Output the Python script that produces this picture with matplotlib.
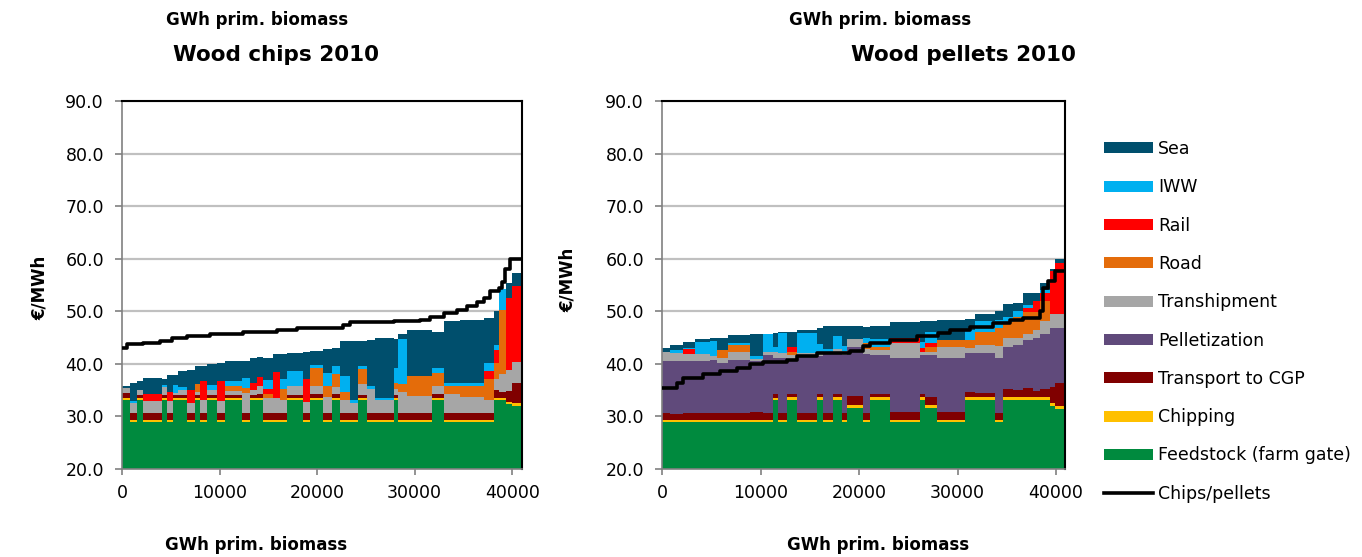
import numpy as np
import matplotlib.pyplot as plt
from matplotlib.patches import Patch
from matplotlib.lines import Line2D
from matplotlib.ticker import FormatStrFormatter

plt.rcParams["font.family"] = ["DejaVu Sans"]

# Couleurs des composantes de coût
colors = {
    "Sea": "#004F6D",
    "IWW": "#00B0F0",
    "Rail": "#FF0000",
    "Road": "#E46C0A",
    "Transhipment": "#A6A6A6",
    "Pelletization": "#604A7B",
    "Transport to CGP": "#800000",
    "Chipping": "#FFC000",
    "Feedstock (farm gate)": "#008A3E",
}

# ---- Wood chips 2010 : bornes des segments (GWh) et coûts (€/MWh)
chips_edges = [0, 820, 1500, 2190, 4070, 4580, 5270, 5780, 6630, 7490, 8000, 8680,
               9710, 10560, 12270, 13130, 13810, 14500, 15520, 16210, 16890, 18600,
               19280, 20650, 21500, 22360, 23390, 24240, 25100, 25950, 27830, 28340,
               29200, 31760, 32960, 34670, 37060, 38090, 38600, 39390, 39970, 40900]
chips_feed = [33.1, 28.9, 33.1, 28.9, 33.1, 28.9, 33.1, 33.1, 28.9, 33.1, 28.9, 33.1,
              28.9, 33.1, 28.9, 33.1, 33.1, 28.9, 28.9, 28.9, 33.1, 28.9, 33.1, 28.9,
              33.1, 28.9, 28.9, 33.1, 28.9, 28.9, 33.1, 28.9, 28.9, 33.1, 28.9, 28.9,
              28.9, 33.1, 33.1, 32.3, 32.0]
chips_chip = [0.5, 0.5, 0.4, 0.5, 0.4, 0.5, 0.4, 0.4, 0.5, 0.4, 0.5, 0.4,
              0.5, 0.4, 0.5, 0.4, 0.4, 0.5, 0.5, 0.5, 0.4, 0.5, 0.4, 0.5,
              0.4, 0.5, 0.5, 0.4, 0.5, 0.5, 0.4, 0.5, 0.5, 0.4, 0.5, 0.5,
              0.5, 0.5, 0.5, 0.5, 0.5]
chips_trans = [0.8, 1.3, 0.6, 1.3, 0.6, 1.3, 0.5, 0.6, 1.3, 0.6, 1.3, 0.6,
               1.3, 0.6, 1.3, 0.6, 0.8, 1.3, 1.3, 1.3, 0.6, 1.3, 0.8, 1.3,
               0.8, 1.3, 1.3, 0.6, 1.3, 1.3, 0.6, 1.3, 1.3, 0.8, 1.3, 1.3,
               1.3, 1.5, 1.0, 2.0, 3.9]
chips_tranship = [1.0, 1.8, 1.0, 2.2, 1.5, 2.2, 0.5, 1.0, 1.8, 0.6, 2.5, 1.0,
                  2.3, 0.8, 3.8, 1.0, 1.4, 2.8, 2.8, 2.5, 1.7, 2.0, 1.5, 3.0,
                  1.3, 2.5, 1.8, 2.0, 4.5, 2.5, 1.2, 4.0, 3.2, 1.5, 3.5, 3.0,
                  2.5, 2.0, 3.5, 4.1, 3.9]
chips_road = [0, 0, 0, 0, 0, 0, 0, 0, 0, 1.5, 0, 0,
              0, 0.8, 0.9, 0, 0, 0.8, 0, 2.0, 0, 0, 3.5, 2.0,
              2.5, 1.5, 0, 3.0, 0, 0, 1.0, 1.5, 3.8, 2.5, 1.5, 2.0,
              4.0, 3.0, 12.2, 0, 0]
chips_rail = [0, 0, 0, 1.4, 0, 1.8, 0, 0, 2.5, 0, 3.5, 0,
              3.8, 0, 0, 1.3, 1.8, 1.0, 5.0, 0, 0, 4.5, 0, 0,
              0, 0, 0, 0, 0, 0, 0, 0, 0, 0, 0, 0,
              1.5, 2.5, 0, 13.7, 14.5]
chips_iww = [0, 0.5, 0, 0, 0.4, 0, 1.5, 0.5, 0, 0, 0, 0.8,
             0, 1.0, 1.9, 0, 0, 1.6, 0, 2.0, 2.8, 0, 0.5, 2.5,
             1.5, 3.0, 0.7, 0.5, 0.5, 0.4, 3.0, 8.5, 0, 1.0, 0.6, 0.6,
             1.5, 1.0, 4.0, 0, 0]
chips_sea = [0.3, 3.3, 1.6, 3.0, 1.2, 3.1, 1.8, 3.0, 3.9, 3.4, 2.9, 4.0,
             3.3, 3.8, 3.2, 4.7, 3.8, 4.3, 3.3, 4.6, 3.5, 5.0, 2.7, 4.6,
             3.5, 6.6, 11.1, 4.7, 8.8, 11.4, 5.5, 1.0, 8.8, 6.7, 11.8, 12.1,
             8.5, 6.4, 0, 2.8, 2.5]
# Coût chips (courbe noire)
chips_line_x = [0, 500, 2190, 3900, 5090, 6630, 9030, 12450, 15860, 17920, 22700,
                23390, 27830, 30570, 31590, 32960, 34330, 35350, 36380, 37060, 37750,
                38600, 38940, 39290, 39730, 41000]
chips_line_y = [43.0, 43.7, 44.0, 44.3, 45.0, 45.3, 45.6, 46.0, 46.4, 46.9, 47.3,
                47.9, 48.1, 48.4, 48.9, 49.6, 50.2, 51.0, 51.7, 52.6, 53.8,
                54.5, 55.5, 58.0, 60.0, 60.0]

# ---- Wood pellets 2010
pel_edges = [0, 810, 2170, 3350, 4870, 5550, 6730, 8930, 10290, 11300, 11810, 12660,
             13670, 15700, 16380, 17390, 18240, 18750, 20440, 21120, 23150, 26190,
             26700, 27880, 30760, 31780, 33810, 34650, 35670, 36680, 37700, 38380,
             39390, 39900, 40910]
pel_feed = [28.9, 28.9, 28.9, 28.9, 28.9, 28.9, 28.9, 28.9, 28.9, 33.1, 28.9, 33.1,
            28.9, 33.1, 28.9, 33.1, 28.9, 31.6, 28.9, 33.1, 28.9, 33.1, 31.6, 28.9,
            33.1, 33.1, 28.9, 33.1, 33.1, 33.1, 33.1, 33.1, 32.0, 31.5]
pel_chip = [0.5, 0.5, 0.5, 0.5, 0.5, 0.5, 0.5, 0.5, 0.5, 0.5, 0.5, 0.6,
            0.5, 0.6, 0.5, 0.6, 0.5, 0.5, 0.5, 0.6, 0.5, 0.6, 0.5, 0.5,
            0.6, 0.6, 0.5, 0.6, 0.6, 0.6, 0.6, 0.6, 0.6, 0.5]
pel_trans = [1.3, 1.1, 1.2, 1.3, 1.3, 1.3, 1.3, 1.5, 1.3, 0.6, 1.3, 0.5,
             1.3, 0.5, 1.3, 0.5, 1.3, 1.7, 1.3, 0.5, 1.5, 0.5, 1.6, 1.5,
             1.0, 0.8, 1.3, 1.5, 1.3, 1.8, 1.2, 1.5, 3.0, 4.4]
pel_pellet = [9.8, 10.0, 9.9, 9.8, 10.0, 9.5, 10.0, 9.6, 11.0, 7.0, 10.5, 6.5,
              10.8, 7.3, 11.3, 7.8, 11.0, 9.5, 11.2, 7.5, 10.3, 7.5, 8.0, 10.3,
              7.3, 7.5, 10.5, 8.0, 8.5, 9.0, 10.0, 10.5, 11.3, 10.5]
pel_tranship = [1.7, 1.5, 1.4, 1.3, 0.7, 1.0, 1.5, 0.5, 0.5, 1.0, 0.8, 1.0,
                0.6, 0.5, 0.3, 0.8, 0.7, 1.5, 1.0, 1.0, 2.8, 0.5, 0.6, 2.0,
                1.0, 1.5, 2.2, 1.8, 1.5, 1.2, 1.5, 2.5, 2.5, 2.5]
pel_road = [0, 0, 0, 0, 0, 1.5, 1.3, 0, 0, 0, 0, 0.5,
            0, 0.3, 0, 0, 0, 0, 1.0, 0.5, 0, 0, 1.0, 1.4,
            1.5, 2.5, 3.5, 3.0, 4.0, 4.2, 3.5, 3.8, 0, 0]
pel_rail = [0, 0, 0.9, 0, 0, 0, 0, 0, 0, 0, 0, 1.0,
            0, 0, 0, 0, 0, 0, 0, 0, 0.9, 0.8, 0.7, 0,
            0, 0, 0, 0, 0, 0.8, 2.0, 1.5, 8.2, 9.7]
pel_iww = [0, 0.6, 0.3, 2.4, 3.0, 0, 0.5, 0.5, 3.4, 1.0, 3.8, 0,
           3.8, 1.5, 0.5, 2.5, 1.0, 0, 1.0, 1.5, 0, 1.2, 2.0, 0,
           2.0, 2.2, 1.5, 1.0, 1.0, 0.5, 0, 0.5, 0, 0]
pel_sea = [0.8, 1.0, 1.0, 0.6, 0.6, 2.3, 1.4, 4.1, 0.1, 2.6, 0.2, 2.8,
           0.6, 3.1, 4.4, 1.9, 3.8, 2.4, 2.1, 2.5, 3.1, 3.9, 2.1, 3.7,
           2.1, 1.2, 1.6, 2.3, 1.5, 2.3, 1.6, 1.4, 0.4, 0.8]
# Coût pellets (courbe noire)
pel_line_x = [0, 1490, 2170, 4200, 5890, 7580, 8930, 10290, 12660, 13670, 15700,
              19090, 20440, 21120, 23150, 25850, 28050, 29240, 31270, 33640, 35330,
              36680, 38380, 38710, 39220, 39900, 40910]
pel_line_y = [35.4, 36.4, 37.3, 38.0, 38.6, 39.2, 39.9, 40.3, 40.8, 41.5, 42.0,
              42.4, 43.4, 44.0, 44.6, 45.3, 45.9, 46.5, 47.0, 47.8, 48.4,
              48.8, 50.0, 54.5, 55.7, 57.6, 57.6]


def stack(ax, edges, layers):
	edges = np.array(edges, dtype=float)
	left = edges[:-1]
	width = np.diff(edges)
	bottom = np.zeros(len(left))
	for vals, name in layers:
		vals = np.array(vals, dtype=float)
		ax.bar(left, vals, width=width, bottom=bottom, align="edge",
		       color=colors[name], linewidth=0, antialiased=False, zorder=2)
		bottom += vals


def style(ax, xmax):
	ax.set_xlim(0, xmax)
	ax.set_ylim(20, 90)
	ax.set_yticks(np.arange(20, 91, 10))
	ax.yaxis.set_major_formatter(FormatStrFormatter("%.1f"))
	ax.set_xticks([0, 10000, 20000, 30000, 40000])
	ax.grid(axis="y", color="#C0C0C0", linewidth=1.6, zorder=0)
	ax.set_axisbelow(True)
	for s in ("left", "bottom"):
		ax.spines[s].set_color("#808080")
		ax.spines[s].set_linewidth(1.2)
	for s in ("top", "right"):
		ax.spines[s].set_color("black")
		ax.spines[s].set_linewidth(1.5)
	ax.tick_params(axis="both", colors="#808080", labelcolor="black",
	               labelsize=12.5, width=1.2)
	ax.tick_params(axis="y", length=5, pad=8)
	ax.tick_params(axis="x", length=4, pad=7)


fig = plt.figure(figsize=(13.62, 5.57), dpi=100)
ax1 = fig.add_axes([122 / 1362, 88 / 557, 400 / 1362, 368 / 557])
ax2 = fig.add_axes([662 / 1362, 88 / 557, 403 / 1362, 368 / 557])

stack(ax1, chips_edges, [
	(chips_feed, "Feedstock (farm gate)"), (chips_chip, "Chipping"),
	(chips_trans, "Transport to CGP"), (chips_tranship, "Transhipment"),
	(chips_road, "Road"), (chips_rail, "Rail"), (chips_iww, "IWW"), (chips_sea, "Sea")])
ax1.plot(chips_line_x, chips_line_y, color="black", linewidth=2.6,
         drawstyle="steps-post", zorder=3)
style(ax1, 41000)

stack(ax2, pel_edges, [
	(pel_feed, "Feedstock (farm gate)"), (pel_chip, "Chipping"),
	(pel_trans, "Transport to CGP"), (pel_pellet, "Pelletization"),
	(pel_tranship, "Transhipment"), (pel_road, "Road"), (pel_rail, "Rail"),
	(pel_iww, "IWW"), (pel_sea, "Sea")])
ax2.plot(pel_line_x, pel_line_y, color="black", linewidth=2.6,
         drawstyle="steps-post", zorder=3)
style(ax2, 40910)

# Titres et libellés
fig.text(257 / 1362, 1 - 20 / 557, "GWh prim. biomass", ha="center", va="center",
         fontsize=12, fontweight="bold")
fig.text(880 / 1362, 1 - 20 / 557, "GWh prim. biomass", ha="center", va="center",
         fontsize=12, fontweight="bold")
fig.text(256 / 1362, 1 - 545 / 557, "GWh prim. biomass", ha="center", va="center",
         fontsize=12, fontweight="bold")
fig.text(878 / 1362, 1 - 545 / 557, "GWh prim. biomass", ha="center", va="center",
         fontsize=12, fontweight="bold")
fig.text(276 / 1362, 1 - 55 / 557, "Wood chips 2010", ha="center", va="center",
         fontsize=15.5, fontweight="bold")
fig.text(963 / 1362, 1 - 55 / 557, "Wood pellets 2010", ha="center", va="center",
         fontsize=15.5, fontweight="bold")
fig.text(40 / 1362, 1 - 288 / 557, "€/MWh", ha="center", va="center",
         rotation=90, fontsize=12, fontweight="bold")
fig.text(568 / 1362, 1 - 280 / 557, "€/MWh", ha="center", va="center",
         rotation=90, fontsize=12, fontweight="bold")

# Légende
order = ["Sea", "IWW", "Rail", "Road", "Transhipment", "Pelletization",
         "Transport to CGP", "Chipping", "Feedstock (farm gate)"]
handles = [Patch(facecolor=colors[n], edgecolor="none") for n in order]
handles.append(Line2D([0], [0], color="black", linewidth=2.6))
labels = order + ["Chips/pellets"]
fig.legend(handles, labels, loc="upper left", bbox_to_anchor=(1104 / 1362, 1 - 140 / 557),
           frameon=False, fontsize=12.5, labelspacing=1.17, handlelength=2.8,
           handleheight=0.6, handletextpad=0.3, borderaxespad=0, borderpad=0)

fig.savefig("out.png", dpi=100)
